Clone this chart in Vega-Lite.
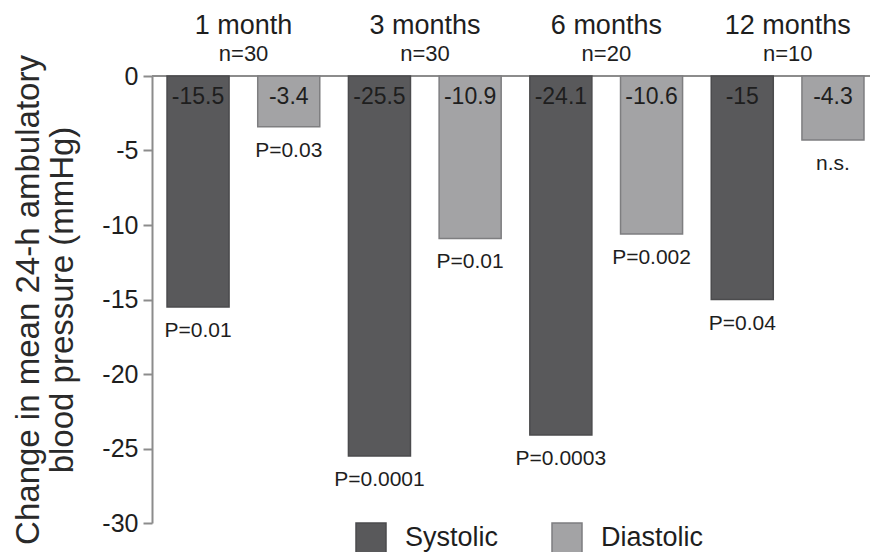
{
  "$schema": "https://vega.github.io/schema/vega-lite/v6.json",
  "width": 718,
  "height": 447,
  "autosize": "none",
  "padding": {"left": 152, "top": 76, "right": 0, "bottom": 29},
  "background": "white",
  "config": {
    "view": {"stroke": null},
    "font": "Liberation Sans",
    "locale": {
      "number": {"decimal": ".", "thousands": ",", "grouping": [3], "currency": ["$", ""], "minus": "-"}
    },
    "text": {"font": "Liberation Sans", "color": "#1e1e1e"}
  },
  "data": {
    "values": [
      {"bar": "1 month Systolic", "month": "1 month", "n": "n=30", "type": "Systolic", "value": -15.5, "p": "P=0.01"},
      {"bar": "1 month Diastolic", "month": "1 month", "n": "n=30", "type": "Diastolic", "value": -3.4, "p": "P=0.03"},
      {"bar": "3 months Systolic", "month": "3 months", "n": "n=30", "type": "Systolic", "value": -25.5, "p": "P=0.0001"},
      {"bar": "3 months Diastolic", "month": "3 months", "n": "n=30", "type": "Diastolic", "value": -10.9, "p": "P=0.01"},
      {"bar": "6 months Systolic", "month": "6 months", "n": "n=20", "type": "Systolic", "value": -24.1, "p": "P=0.0003"},
      {"bar": "6 months Diastolic", "month": "6 months", "n": "n=20", "type": "Diastolic", "value": -10.6, "p": "P=0.002"},
      {"bar": "12 months Systolic", "month": "12 months", "n": "n=10", "type": "Systolic", "value": -15, "p": "P=0.04"},
      {"bar": "12 months Diastolic", "month": "12 months", "n": "n=10", "type": "Diastolic", "value": -4.3, "p": "n.s."}
    ]
  },
  "encoding": {
    "x": {
      "field": "bar",
      "type": "nominal",
      "sort": null,
      "scale": {"paddingInner": 0.316, "paddingOuter": 0.116, "align": 0.714},
      "axis": null
    }
  },
  "layer": [
    {
      "mark": {"type": "rule", "color": "#8c8c8c", "strokeWidth": 2},
      "encoding": {"x": null, "y": {"datum": 0, "type": "quantitative"}}
    },
    {
      "mark": {"type": "bar", "strokeWidth": 1.5},
      "encoding": {
        "y": {
          "field": "value",
          "type": "quantitative",
          "scale": {"domain": [-30, 0], "nice": false},
          "axis": {
            "values": [0, -5, -10, -15, -20, -25, -30],
            "grid": false,
            "domainColor": "#8c8c8c",
            "domainWidth": 2,
            "tickColor": "#8c8c8c",
            "tickWidth": 2,
            "tickSize": 9,
            "labelFontSize": 25,
            "labelColor": "#1e1e1e",
            "labelPadding": 5,
            "title": ["Change in mean 24-h ambulatory", "blood pressure (mmHg)"],
            "titleFontSize": 33,
            "titleFontWeight": "normal",
            "titleColor": "#2a2a2a",
            "titlePadding": 22,
            "titleLineHeight": 34
          }
        },
        "y2": {"datum": 0},
        "color": {
          "field": "type",
          "type": "nominal",
          "scale": {"domain": ["Systolic", "Diastolic"], "range": ["#59595b", "#a3a3a5"]},
          "legend": {
            "title": null,
            "orient": "none",
            "direction": "horizontal",
            "legendX": 203,
            "legendY": 446,
            "symbolType": "square",
            "symbolSize": 900,
            "symbolStrokeColor": "#707070",
            "symbolStrokeWidth": 1.5,
            "symbolOpacity": 1,
            "labelFontSize": 27,
            "labelColor": "#1e1e1e",
            "labelOffset": 18,
            "columnPadding": 50
          }
        },
        "stroke": {
          "field": "type",
          "type": "nominal",
          "scale": {"domain": ["Systolic", "Diastolic"], "range": ["#4b4b4d", "#7e7e80"]},
          "legend": null
        }
      }
    },
    {
      "mark": {"type": "text", "baseline": "middle", "fontSize": 23, "dy": 21},
      "encoding": {
        "y": {"datum": 0, "type": "quantitative"},
        "text": {"field": "value", "type": "quantitative"}
      }
    },
    {
      "mark": {"type": "text", "baseline": "middle", "fontSize": 21, "dy": 24},
      "encoding": {
        "y": {"field": "value", "type": "quantitative"},
        "text": {"field": "p"}
      }
    },
    {
      "transform": [{"filter": "datum.type === 'Systolic'"}],
      "mark": {"type": "text", "baseline": "middle", "fontSize": 27, "dy": -50},
      "encoding": {
        "x": {"field": "bar", "type": "nominal", "sort": null, "bandPosition": 1.234},
        "y": {"datum": 0, "type": "quantitative"},
        "text": {"field": "month"}
      }
    },
    {
      "transform": [{"filter": "datum.type === 'Systolic'"}],
      "mark": {"type": "text", "baseline": "middle", "fontSize": 22, "dy": -22},
      "encoding": {
        "x": {"field": "bar", "type": "nominal", "sort": null, "bandPosition": 1.234},
        "y": {"datum": 0, "type": "quantitative"},
        "text": {"field": "n"}
      }
    }
  ]
}
